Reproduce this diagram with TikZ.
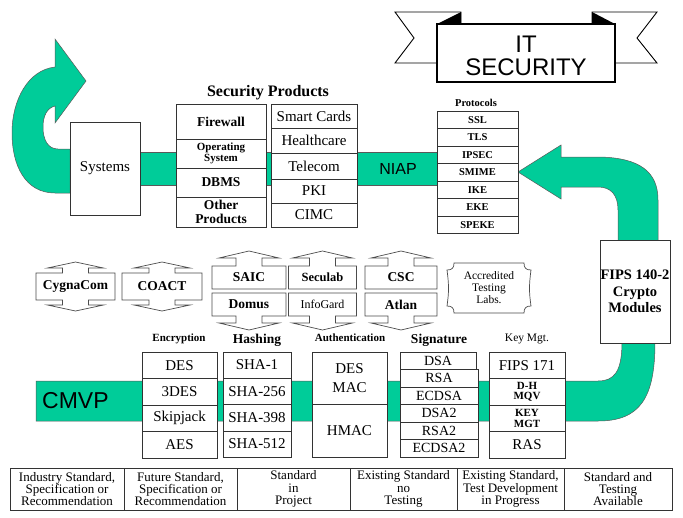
\documentclass[tikz,border=0pt]{standalone}
\usepackage{fontspec}
\setmainfont{Liberation Serif}
\newfontfamily\sansf{Liberation Sans}
\definecolor{bandgreen}{RGB}{0,204,153}
\newcommand\fsz[2]{\fontsize{#1}{#2}\selectfont}
% box node from corner (x1,y1) to (x2,y2)
\newcommand\cellnode[7][]{%
 \pgfmathsetmacro\cnX{(#3+#5)/2}\pgfmathsetmacro\cnY{(#4+#6)/2}%
 \pgfmathsetmacro\cnW{#5-#3}\pgfmathsetmacro\cnH{#6-#4}%
 \node[cell,minimum width=\cnW pt,minimum height=\cnH pt,#1] (#2) at (\cnX,\cnY) {#7};}
% single lab shape: #1 cx, #2 half width, #3 top, #4 bottom
\newcommand\singlelab[4]{%
\draw[lab] (#1-#2,#3) -- (#1-13,#3) -- (#1-13,#3-5) -- (#1-28,#3-5) -- (#1,#3-11) -- (#1+28,#3-5) -- (#1+13,#3-5) -- (#1+13,#3) -- (#1+#2,#3) -- (#1+#2,#4) -- (#1+13,#4) -- (#1+13,#4+5) -- (#1+28,#4+5) -- (#1,#4+11) -- (#1-28,#4+5) -- (#1-13,#4+5) -- (#1-13,#4) -- (#1-#2,#4) -- cycle;}
% double lab shape: #1 cx, #2 half width
\newcommand\doublelab[2]{%
\draw[lab] (#1-#2,289) -- (#1-#2,266) -- (#1-13,266) -- (#1-13,258) -- (#1-30,258) -- (#1,251) -- (#1+30,258) -- (#1+13,258) -- (#1+13,266) -- (#1+#2,266) -- (#1+#2,289) -- cycle;
\draw[lab] (#1-#2,293) -- (#1+#2,293) -- (#1+#2,316) -- (#1+13,316) -- (#1+13,323) -- (#1+30,323) -- (#1,330) -- (#1-30,323) -- (#1-13,323) -- (#1-13,316) -- (#1-#2,316) -- cycle;}
\begin{document}
\begin{tikzpicture}[x=1pt,y=-1pt,
 cell/.style={draw=black!80, fill=white, line width=0.6pt, inner sep=0pt, outer sep=0pt, align=center},
 band/.style={fill=bandgreen, draw=black!65, line width=0.5pt},
 lab/.style={draw=black!70, fill=white, line width=0.7pt},
 ttl/.style={inner sep=0pt, align=center},
 reg/.style={font=\fsz{15}{17}},
 bld/.style={font=\bfseries\fsz{13.5}{14}},
 prot/.style={font=\bfseries\fsz{10.5}{11}},
 sig/.style={font=\fsz{14}{15}},
 leg/.style={font=\fsz{13}{12.2}},
]
\useasboundingbox[fill=white] (0,0) rectangle (683,517);

% ---------- green bands ----------
\draw[band] (70,193) -- (55,193) .. controls (25,193) and (12,165) .. (12,133) .. controls (12,100) and (28,70) .. (55,67) -- (55,39) -- (86,81) -- (55,123) -- (55,106) .. controls (47,108) and (43,116) .. (43,127) .. controls (43,140) and (48,149) .. (58,149) -- (70,149) -- cycle;
\draw[band] (138,152) rectangle (439,185);
\draw[band] (658,242) -- (658,200) .. controls (658,172) and (640,158) .. (600,157) -- (561,157) -- (561,145) -- (518,172) -- (561,199) -- (561,187) -- (598,187) .. controls (611,187) and (618,195) .. (618,210) -- (618,242) -- cycle;
\draw[band] (36,381) -- (598,381) .. controls (614,381) and (622,372) .. (622,342) -- (655,342) .. controls (655,398) and (640,421) .. (598,421) -- (36,421) -- cycle;

\node[ttl, font=\sansf\fsz{23}{25}, anchor=west] (cmvp) at (42,401) {CMVP};
\node[ttl, font=\sansf\fsz{16}{18}] (niap) at (398,169) {NIAP};

% ---------- title banner ----------
\draw[fill=white, line width=0.9pt] (461,12) -- (395,12) -- (414,38) -- (395,63) -- (461,63) -- cycle;
\fill (461,12) -- (461,24) -- (437,24) -- cycle;
\draw[fill=white, line width=0.9pt] (592,12) -- (657,12) -- (637,38) -- (657,63) -- (592,63) -- cycle;
\fill (592,12) -- (592,24) -- (615,24) -- cycle;
\cellnode[draw=black, line width=1.8pt]{titlebox}{437}{24}{615}{82}{}
\node[ttl, font=\sansf\fsz{24}{22.5}] (titletext) at (526,56) {IT\\SECURITY};

% ---------- systems & products ----------
\cellnode[reg]{sys}{70}{122}{140}{215}{Systems}
\node[ttl, font=\bfseries\fsz{16}{17}] (sptitle) at (268,93) {Security Products};
\cellnode[bld]{fw}{176}{104}{266}{139}{Firewall}
\cellnode[font=\bfseries\fsz{11}{11.5}]{os}{176}{139}{266}{168}{Operating\\System}
\cellnode[bld]{dbms}{176}{168}{266}{197}{DBMS}
\cellnode[bld]{other}{176}{197}{266}{227}{Other\\Products}
\cellnode[reg]{smart}{271}{104}{357}{128}{Smart Cards}
\cellnode[reg]{health}{271}{128}{357}{153}{Healthcare}
\cellnode[reg]{tele}{271}{153}{357}{179}{Telecom}
\cellnode[reg]{pki}{271}{179}{357}{203}{PKI}
\cellnode[reg]{cimc}{271}{203}{357}{227}{CIMC}

% ---------- protocols ----------
\node[ttl, prot] (ptitle) at (476,103) {Protocols};
\cellnode[prot]{ssl}{437}{111}{518}{128.5}{SSL}
\cellnode[prot]{tls}{437}{128.5}{518}{146}{TLS}
\cellnode[prot]{ipsec}{437}{146}{518}{163.5}{IPSEC}
\cellnode[prot]{smime}{437}{163.5}{518}{181}{SMIME}
\cellnode[prot]{ike}{437}{181}{518}{198.5}{IKE}
\cellnode[prot]{eke}{437}{198.5}{518}{216}{EKE}
\cellnode[prot]{speke}{437}{216}{518}{233.5}{SPEKE}

% ---------- FIPS ----------
\cellnode[font=\bfseries\fsz{14.5}{16.5}]{fips}{600}{240}{670}{343}{FIPS 140-2\\Crypto\\Modules}

% ---------- labs ----------
\singlelab{75.5}{39.5}{273}{300}
\node[ttl, bld] (cygna) at (75.5,286.5) {CygnaCom};
\singlelab{162}{40}{273}{300}
\node[ttl, bld] (coact) at (162,286.5) {COACT};
\doublelab{249}{37}
\node[ttl, bld] (saic) at (249,277.5) {SAIC};
\node[ttl, bld] (domus) at (249,304.5) {Domus};
\doublelab{322.5}{34}
\node[ttl, font=\bfseries\fsz{12.5}{13}] (seculab) at (322.5,277.5) {Seculab};
\node[ttl, font=\fsz{12}{13}] (infogard) at (322.5,304.5) {InfoGard};
\doublelab{401}{36}
\node[ttl, bld] (csc) at (401,277.5) {CSC};
\node[ttl, bld] (atlan) at (401,304.5) {Atlan};
\draw[lab] (454,263) -- (524,263) .. controls (524,268) and (526,270) .. (531,270) .. controls (529,285) and (529,292) .. (531,306) .. controls (526,306) and (524,308) .. (524,313) -- (454,313) .. controls (454,308) and (452,306) .. (447,306) .. controls (449,292) and (449,285) .. (447,270) .. controls (452,270) and (454,268) .. (454,263) -- cycle;
\node[ttl, font=\fsz{11.5}{12}] (accr) at (489,288) {Accredited\\Testing\\Labs.};

% ---------- algorithm columns ----------
\node[ttl, font=\bfseries\fsz{11}{12}] (enct) at (179,339) {Encryption};
\cellnode[reg]{des}{142}{352}{217}{378.5}{DES}
\cellnode[reg]{tdes}{142}{378.5}{217}{405}{3DES}
\cellnode[reg]{skip}{142}{405}{217}{431.5}{Skipjack}
\cellnode[reg]{aes}{142}{431.5}{217}{458}{AES}

\node[ttl, font=\bfseries\fsz{13.5}{14}] (hasht) at (257,340) {Hashing};
\cellnode[reg]{sha1}{223}{352}{291}{378}{SHA-1}
\cellnode[reg]{sha256}{223}{378}{291}{404.5}{SHA-256}
\cellnode[reg]{sha398}{223}{404.5}{291}{431}{SHA-398}
\cellnode[reg]{sha512}{223}{431}{291}{457}{SHA-512}

\node[ttl, font=\bfseries\fsz{11}{12}] (autht) at (350,338) {Authentication};
\cellnode[font=\fsz{15}{19}]{desmac}{312}{352}{387}{404}{DES\\MAC}
\cellnode[reg]{hmac}{312}{404}{387}{457}{HMAC}

\node[ttl, font=\bfseries\fsz{13.5}{14}] (sigt) at (439,340) {Signature};
\cellnode[sig]{dsa}{400}{352}{476}{369.5}{DSA}
\cellnode[sig]{rsa}{400}{369.5}{478}{387}{RSA}
\cellnode[sig]{ecdsa}{400}{387}{478}{404.5}{ECDSA}
\cellnode[sig]{dsa2}{400}{404.5}{478}{422}{DSA2}
\cellnode[sig]{rsa2}{400}{422}{478}{439.5}{RSA2}
\cellnode[sig]{ecdsa2}{400}{439.5}{478}{457}{ECDSA2}

\node[ttl, font=\fsz{11.5}{12}] (keyt) at (527,339) {Key Mgt.};
\cellnode[reg]{fips171}{489}{352}{565}{378.5}{FIPS 171}
\cellnode[font=\bfseries\fsz{11}{10.5}]{dh}{489}{378.5}{565}{405}{D-H\\MQV}
\cellnode[font=\bfseries\fsz{11}{10.5}]{kmgt}{489}{405}{565}{431.5}{KEY\\MGT}
\cellnode[reg]{ras}{489}{431.5}{565}{458}{RAS}

% ---------- legend ----------
\cellnode[leg]{l1}{10}{468}{124}{510}{Industry Standard,\\Specification or\\Recommendation}
\cellnode[leg]{l2}{124}{468}{237}{510}{Future Standard,\\Specification or\\Recommendation}
\cellnode[leg]{l3}{237}{468}{350}{510}{Standard\\in\\Project}
\cellnode[leg]{l4}{350}{468}{457}{510}{Existing Standard\\no\\Testing}
\cellnode[leg]{l5}{457}{468}{564}{510}{Existing Standard,\\Test Development\\in Progress}
\cellnode[leg]{l6}{564}{468}{672}{510}{Standard and\\Testing\\Available}
\end{tikzpicture}
\end{document}
